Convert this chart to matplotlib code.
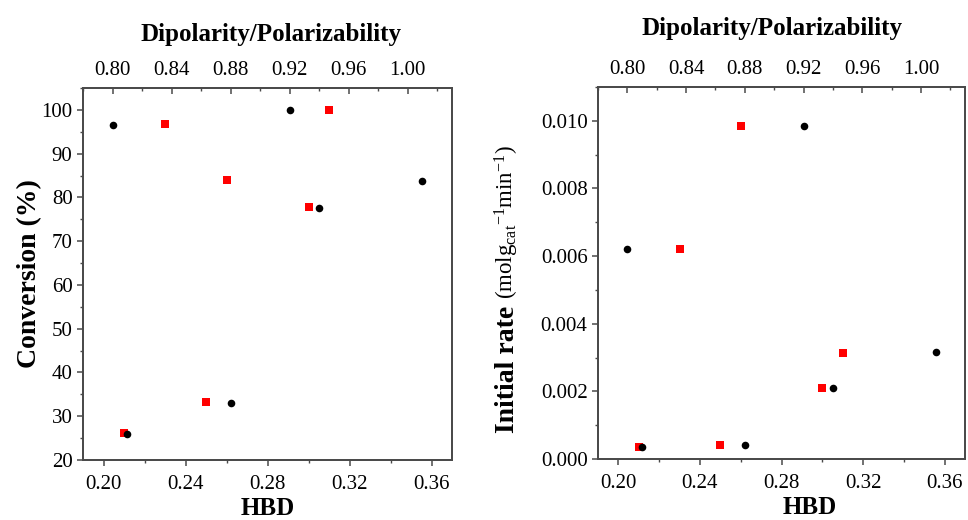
import numpy as np
import matplotlib
matplotlib.use("Agg")
import matplotlib.pyplot as plt
from matplotlib.ticker import MultipleLocator, FormatStrFormatter

plt.rcParams["font.family"] = ["Liberation Serif", "DejaVu Serif"]
plt.rcParams["mathtext.fontset"] = "custom"
plt.rcParams["mathtext.rm"] = "Liberation Serif"
plt.rcParams["mathtext.bf"] = "Liberation Serif:bold"
plt.rcParams["mathtext.it"] = "Liberation Serif:italic"

# red squares: HBD (bottom axis)
hbd = [0.21, 0.23, 0.25, 0.26, 0.30, 0.31]
conv_hbd = [26.1, 96.7, 33.2, 84.0, 77.8, 100.0]
rate_hbd = [0.00035, 0.0062, 0.00041, 0.00985, 0.00209, 0.00314]

# black circles: dipolarity/polarizability (top axis)
dipolarity = [0.80, 0.81, 0.88, 0.92, 0.94, 1.01]
conv_dip = [96.5, 25.9, 33.0, 99.9, 77.5, 83.8]
rate_dip = [0.0062, 0.00035, 0.00041, 0.00986, 0.0021, 0.00315]

SPINE = "#4a4a4a"
RED = "#ff0000"

fig = plt.figure(figsize=(9.68, 5.2), dpi=100)
ax1 = fig.add_axes([83/968, 60/520, 369/968, 372/520])
ax2 = fig.add_axes([598/968, 61/520, 367/968, 372/520])


def style(ax, top):
    for sp in list(ax.spines.values()) + list(top.spines.values()):
        sp.set_color(SPINE)
        sp.set_linewidth(1.3)
    ax.set_xlim(0.19, 0.37)
    ax.xaxis.set_major_locator(MultipleLocator(0.04))
    ax.xaxis.set_minor_locator(MultipleLocator(0.02))
    ax.xaxis.set_major_formatter(FormatStrFormatter("%.2f"))
    ax.tick_params(which="both", direction="out", color=SPINE, labelsize=15,
                   top=False, right=False)
    ax.tick_params(axis="x", pad=6)
    ax.tick_params(axis="y", pad=3)
    ax.tick_params(which="major", length=4.5, width=1.1)
    ax.tick_params(which="minor", length=2.5, width=1.0)

    top.set_xlim(0.78, 1.03)
    top.xaxis.set_major_locator(MultipleLocator(0.04))
    top.xaxis.set_minor_locator(MultipleLocator(0.02))
    top.xaxis.set_major_formatter(FormatStrFormatter("%.2f"))
    top.tick_params(which="both", direction="in", color=SPINE, labelsize=15, pad=6)
    top.tick_params(which="major", length=4.5, width=1.1)
    top.tick_params(which="minor", length=2.5, width=1.0)

    ax.set_xlabel("HBD", fontsize=18, fontweight="bold")
    top.set_xlabel("Dipolarity/Polarizability", fontsize=18, fontweight="bold")


# left panel: conversion
top1 = ax1.twiny()
style(ax1, top1)
ax1.set_ylim(20, 105)
ax1.yaxis.set_major_locator(MultipleLocator(10))
ax1.yaxis.set_minor_locator(MultipleLocator(5))
ax1.scatter(hbd, conv_hbd, marker="s", s=26, color=RED, zorder=3, linewidths=0)
top1.scatter(dipolarity, conv_dip, marker="o", s=30, color="black", zorder=3, linewidths=0)
ax1.set_ylabel("Conversion (%)", fontsize=20, fontweight="bold")
ax1.yaxis.set_label_coords(-0.112, 0.5)
ax1.xaxis.set_label_coords(0.5, -0.1)
top1.xaxis.set_label_coords(0.51, 1.127)

# right panel: initial rate
top2 = ax2.twiny()
style(ax2, top2)
ax2.set_ylim(0, 0.011)
ax2.yaxis.set_major_locator(MultipleLocator(0.002))
ax2.yaxis.set_minor_locator(MultipleLocator(0.001))
ax2.yaxis.set_major_formatter(FormatStrFormatter("%.3f"))
ax2.scatter(hbd, rate_hbd, marker="s", s=26, color=RED, zorder=3, linewidths=0)
top2.scatter(dipolarity, rate_dip, marker="o", s=30, color="black", zorder=3, linewidths=0)
ax2.set_ylabel("Initial rate", fontsize=20, fontweight="bold", va="baseline")
ax2.yaxis.set_label_coords(-0.229, 0.242)
ax2.text(-0.229, 0.637, r"$(\mathrm{molg}_{\mathrm{cat}}{}^{\mathrm{-1}}\mathrm{min}^{\mathrm{-1}})$",
         transform=ax2.transAxes, fontsize=16.5, rotation=90, rotation_mode="anchor",
         ha="center", va="baseline")
ax2.xaxis.set_label_coords(0.578, -0.1)
top2.xaxis.set_label_coords(0.474, 1.14)

fig.savefig("out.png", dpi=100)
